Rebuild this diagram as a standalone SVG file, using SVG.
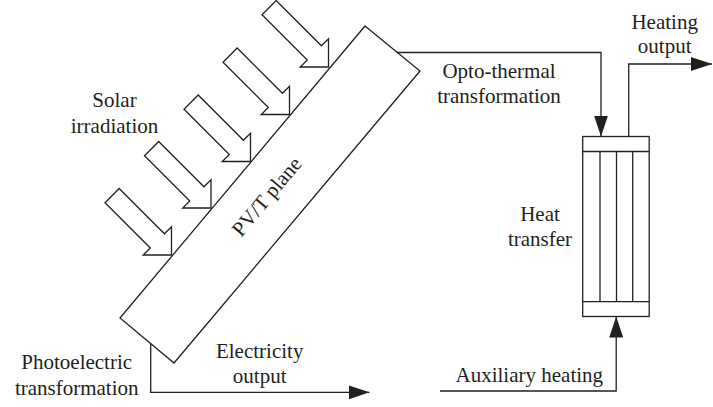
<svg xmlns="http://www.w3.org/2000/svg" width="713" height="407" viewBox="0 0 713 407">
<style>
.s{fill:none;stroke:#231f20;stroke-width:1.3;stroke-linejoin:miter}
.w{fill:#fff;stroke:#231f20;stroke-width:1.3}
.t{font-family:"Liberation Serif","Times New Roman",serif;font-size:21px;fill:#231f20;text-anchor:middle}
</style>
<defs>
<path id="ray" d="M0,0 L-20,-20 L-20,-10 L-84,-10 L-84,10 L-20,10 L-20,20 Z"/>
<marker id="ah" markerUnits="userSpaceOnUse" markerWidth="22" markerHeight="16" refX="21" refY="7" orient="auto" viewBox="0 0 22 16">
<path d="M0,0 L21,7 L0,14 Z" fill="#231f20"/>
</marker>
</defs>
<rect width="713" height="407" fill="#fff"/>
<g id="solar-rays">
<use href="#ray" class="w" transform="translate(328.5,67) rotate(45)"/>
<use href="#ray" class="w" transform="translate(289.5,114.5) rotate(45)"/>
<use href="#ray" class="w" transform="translate(250.5,161.5) rotate(45)"/>
<use href="#ray" class="w" transform="translate(211,208) rotate(45)"/>
<use href="#ray" class="w" transform="translate(171.5,255) rotate(45)"/>
</g>
<g id="pvt-plane">
<polygon class="w" points="365,26 420,71 174,363 120,318"/>
<text class="t" transform="translate(272,201) rotate(-50)">PV/T plane</text>
</g>
<g id="heat-exchanger">
<rect class="w" x="582.7" y="136.5" width="66.5" height="180"/>
<line class="s" x1="582.7" y1="151.5" x2="649.2" y2="151.5"/>
<line class="s" x1="582.7" y1="301.7" x2="649.2" y2="301.7"/>
<line class="s" x1="600" y1="151.5" x2="600" y2="301.7"/>
<line class="s" x1="616.5" y1="151.5" x2="616.5" y2="301.7"/>
<line class="s" x1="632.7" y1="151.5" x2="632.7" y2="301.7"/>
</g>
<g id="connectors">
<polyline class="s" points="396.7,52.5 601,52.5 601,136.5" marker-end="url(#ah)"/>
<polyline class="s" points="628.7,136.5 628.7,64 712,64" marker-end="url(#ah)"/>
<polyline class="s" points="440,391 616.2,391 616.2,316.5" marker-end="url(#ah)"/>
<polyline class="s" points="150.7,343.6 150.7,392.3 369.5,392.3" marker-end="url(#ah)"/>
</g>
<g id="labels">
<text class="t" x="114.5" y="106.5">Solar</text>
<text class="t" x="114.5" y="133">irradiation</text>
<text class="t" x="76.7" y="368.5">Photoelectric</text>
<text class="t" x="76.7" y="394.5">transformation</text>
<text class="t" x="259.7" y="358.3">Electricity</text>
<text class="t" x="259.7" y="383">output</text>
<text class="t" x="499" y="78">Opto-thermal</text>
<text class="t" x="499" y="103">transformation</text>
<text class="t" x="664.7" y="28.5">Heating</text>
<text class="t" x="664.7" y="53">output</text>
<text class="t" x="540" y="221">Heat</text>
<text class="t" x="540" y="246">transfer</text>
<text class="t" x="529.3" y="382">Auxiliary heating</text>
</g>
</svg>
